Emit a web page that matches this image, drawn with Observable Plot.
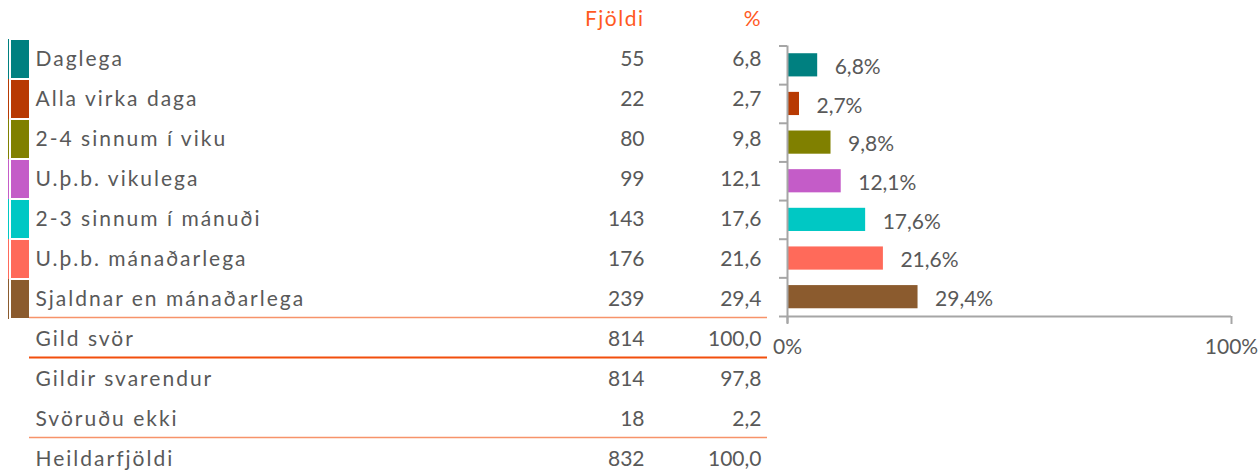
<!DOCTYPE html>
<html><head><meta charset="utf-8">
<script src="https://cdn.jsdelivr.net/npm/d3@7"></script>
<script src="https://cdn.jsdelivr.net/npm/@observablehq/plot@0.6"></script>
<style>
html,body{margin:0;padding:0;background:#fff;}
#chart{width:1259px;height:475px;}
</style>
</head><body><div id="chart"></div>
<script>
// ---- data ----
const categories = ["Daglega","Alla virka daga","2-4 sinnum í viku","U.þ.b. vikulega","2-3 sinnum í mánuði","U.þ.b. mánaðarlega","Sjaldnar en mánaðarlega"];
const counts = [55, 22, 80, 99, 143, 176, 239];
const percents = [6.8, 2.7, 9.8, 12.1, 17.6, 21.6, 29.4];
const colors = ["#008080","#B83A03","#808000","#C45CC8","#00C8C4","#FF6A5A","#8B5B2E"];
const summaryRows = ["Gild svör","Gildir svarendur","Svöruðu ekki","Heildarfjöldi"];
const summaryCounts = [814, 814, 18, 832];
const summaryPercents = [100.0, 97.8, 2.2, 100.0];
const headers = ["Fjöldi","%"];
const lightRuleRows = ["Sjaldnar en mánaðarlega","Svöruðu ekki"];
const darkRuleRows = ["Gild svör"];
const xAxisTicks = [0, 100];

// ---- build ----
const W = 1259, H = 475;
const font = "Lato, 'Open Sans', sans-serif";
const textColor = "#595959";
const axisColor = "#A6A6A6";
const fmt = v => v.toFixed(1).replace(".", ",");

const colorRows = categories.map((c, i) => ({label: c, count: counts[i], pct: percents[i], color: colors[i], i}));
const rows = colorRows.concat(summaryRows.map((c, i) => ({label: c, count: summaryCounts[i], pct: summaryPercents[i]})));
const HEAD = "\u0000header";
const yDomain = [HEAD, ...rows.map(r => r.label)];

const table = Plot.plot({
  width: W, height: H, margin: 0,
  style: {fontFamily: font, background: "transparent", overflow: "visible"},
  color: {type: "identity"},
  y: {type: "band", domain: yDomain, range: [-1, 479], paddingInner: 0.05, paddingOuter: 0, axis: null},
  marks: [
    Plot.cell(colorRows, {y: "label", fill: "color", insetLeft: 8, insetRight: W - 9, insetTop: -1, insetBottom: -1}),
    Plot.cell(colorRows, {y: "label", fill: "color", insetLeft: 11, insetRight: W - 29}),
    Plot.ruleY(lightRuleRows, {y: d => d, dy: 18, insetLeft: 29, insetRight: W - 767, stroke: "#F7936A", strokeWidth: 1.6}),
    Plot.ruleY(darkRuleRows, {y: d => d, dy: 18, insetLeft: 29, insetRight: W - 767, stroke: "#F24F0C", strokeWidth: 2.2}),
    Plot.text(rows, {y: "label", text: "label", frameAnchor: "left", dx: 35, textAnchor: "start", fill: textColor, fontSize: 21}),
    Plot.text(rows, {y: "label", text: d => String(d.count), frameAnchor: "left", dx: 644, textAnchor: "end", fill: textColor, fontSize: 21}),
    Plot.text(rows, {y: "label", text: d => fmt(d.pct), frameAnchor: "left", dx: 761, textAnchor: "end", fill: textColor, fontSize: 21}),
    Plot.text([headers[0]], {y: () => HEAD, text: d => d, frameAnchor: "left", dx: 644, textAnchor: "end", fill: "#FF5A1F", fontSize: 21}),
    Plot.text([headers[1]], {y: () => HEAD, text: d => d, frameAnchor: "left", dx: 760, textAnchor: "end", fill: "#FF5A1F", fontSize: 21})
  ]
});

const barData = colorRows;
const bars = Plot.plot({
  width: W, height: H,
  marginLeft: 787, marginRight: 28, marginTop: 45.5, marginBottom: H - 316,
  style: {fontFamily: font, background: "transparent", overflow: "visible"},
  color: {type: "identity"},
  x: {domain: [0, 100], axis: null},
  y: {domain: [0, categories.length], reverse: true, axis: null},
  marks: [
    Plot.rectX(barData, {x: "pct", y1: d => d.i + 0.2, y2: d => d.i + 0.8, fill: "color"}),
    Plot.text(barData, {x: "pct", y: d => d.i + 0.5, text: d => fmt(d.pct) + "%", dx: 17, dy: 2, textAnchor: "start", fill: textColor, fontSize: 21}),
    Plot.axisY(d3.range(categories.length + 1), {anchor: "left", tickSize: 8, tickFormat: () => "", label: null, stroke: axisColor, strokeWidth: 2}),
    Plot.ruleX([0], {stroke: axisColor, strokeWidth: 2, insetBottom: -7}),
    Plot.ruleY([categories.length], {stroke: axisColor, strokeWidth: 2}),
    Plot.axisX(xAxisTicks, {anchor: "bottom", tickSize: 8, tickPadding: 15, tickFormat: d => d + "%", label: null, stroke: axisColor, strokeWidth: 2, fill: textColor, fontSize: 21})
  ]
});

bars.setAttribute("x", 0);
bars.setAttribute("y", 0);
table.appendChild(bars);
document.getElementById("chart").appendChild(table);

const labelSet = new Set(rows.map(r => r.label));
table.querySelectorAll("text").forEach(t => {
  const s = t.textContent;
  if (labelSet.has(s)) t.setAttribute("letter-spacing", "2");
  else if (s === headers[0]) t.setAttribute("letter-spacing", "1.5");
});
</script>
</body></html>
